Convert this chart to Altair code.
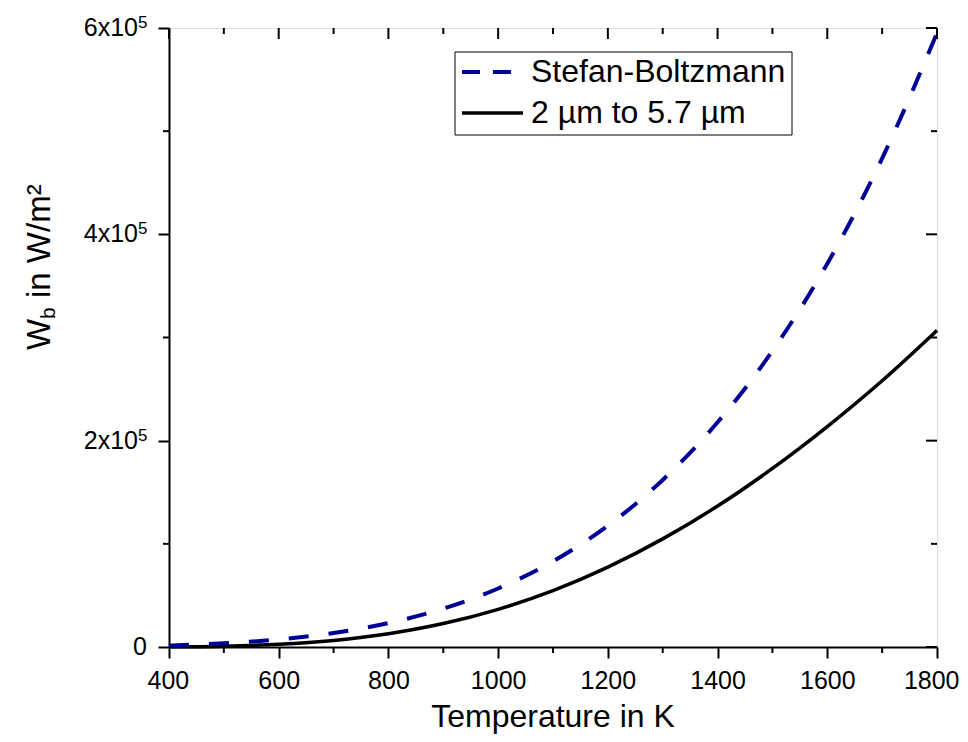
import altair as alt
import pandas as pd

# ---------------- data ----------------
temps = [400, 500, 600, 700, 800, 900, 1000, 1100, 1200, 1300, 1400, 1500, 1600, 1700, 1800]
stefan_boltzmann = [1452, 3544, 7348, 13614, 23224, 37201, 56700, 83013, 117573,
                    161939, 217818, 287044, 371589, 473558, 595213]
band_2_to_5_7 = [170, 840, 2680, 6410, 12870, 22700, 36500, 54600, 77400,
                 104800, 136600, 173100, 213700, 258100, 306900]

x_major = [400, 600, 800, 1000, 1200, 1400, 1600, 1800]
x_minor = [500, 700, 900, 1100, 1300, 1500, 1700]
y_major = [0, 200000, 400000, 600000]
y_minor = [100000, 300000, 500000]
y_label_base = ["0", "2x10", "4x10", "6x10"]
y_label_exp = ["", "5", "5", "5"]

legend_labels = ["Stefan-Boltzmann", "2 µm to 5.7 µm"]
x_title = "Temperature in K"
y_title_parts = ["W", "b", "in W/m²"]

# ---------------- styling ----------------
FONT = "Liberation Sans"
BLUE = "#000096"
W, H = 768, 619

xscale = alt.Scale(domain=[400, 1800], nice=False, zero=False)
yscale = alt.Scale(domain=[0, 600000], nice=False, zero=False)

df_sb = pd.DataFrame({"T": temps, "W": stefan_boltzmann})
df_band = pd.DataFrame({"T": temps, "W": band_2_to_5_7})
one = pd.DataFrame({"a": [0]})

x_axis = alt.Axis(values=x_major, format="d", tickSize=11, tickWidth=2, domainWidth=2,
                  labelFontSize=25, labelPadding=10, labelFont=FONT, labelColor="black",
                  tickColor="black", domainColor="black", grid=False, title=None,
                  labelFlush=True, labelFlushOffset=22, labelOverlap=False)
y_axis = alt.Axis(values=y_major, tickSize=11, tickWidth=2, domainWidth=2,
                  labels=False, tickColor="black", domainColor="black",
                  grid=False, title=None)

def X(field):
    return alt.X(field, type="quantitative", scale=xscale, axis=x_axis)

def Y(field):
    return alt.Y(field, type="quantitative", scale=yscale, axis=y_axis)

black_line = alt.Chart(df_band).mark_line(
    color="black", strokeWidth=3.5, interpolate="monotone"
).encode(x=X("T"), y=Y("W"))

blue_line = alt.Chart(df_sb).mark_line(
    color=BLUE, strokeWidth=4, strokeDash=[20, 20], interpolate="monotone"
).encode(x=X("T"), y=Y("W"))

# minor / mirrored ticks
df_xmaj = pd.DataFrame({"v": x_major})
df_xmin = pd.DataFrame({"v": x_minor})
df_ymaj = pd.DataFrame({"v": y_major})
df_ymin = pd.DataFrame({"v": y_minor})

def xticks(df, y0, y1):
    return alt.Chart(df).mark_rule(color="black", strokeWidth=2).encode(
        x=X("v"), y=alt.value(y0), y2=alt.value(y1))

def yticks(df, x0, x1):
    return alt.Chart(df).mark_rule(color="black", strokeWidth=2).encode(
        y=Y("v"), x=alt.value(x0), x2=alt.value(x1))

ticks = [
    xticks(df_xmin, H, H + 6),
    xticks(df_xmaj, 0, 11),
    xticks(df_xmin, 0, 6),
    yticks(df_ymin, -6, 0),
    yticks(df_ymaj, W - 11, W),
    yticks(df_ymin, W - 6, W),
]

# y tick labels with superscript exponent
df_ylab = pd.DataFrame({"v": y_major, "base": y_label_base, "exp": y_label_exp})
ylab_zero = alt.Chart(df_ylab).transform_filter("datum.exp == ''").mark_text(
    align="right", baseline="middle", fontSize=25, font=FONT, color="black"
).encode(y=Y("v"), x=alt.value(-22), text="base:N")
ylab_base = alt.Chart(df_ylab).transform_filter("datum.exp != ''").mark_text(
    align="right", baseline="middle", fontSize=25, font=FONT, color="black"
).encode(y=Y("v"), x=alt.value(-31), text="base:N")
ylab_exp = alt.Chart(df_ylab).transform_filter("datum.exp != ''").mark_text(
    align="left", baseline="alphabetic", fontSize=17, font=FONT, color="black", dy=0
).encode(y=Y("v"), x=alt.value(-31), text="exp:N")

# axis titles
xtitle = alt.Chart(one).mark_text(
    text=x_title, align="center", baseline="alphabetic", fontSize=32, font=FONT, color="black"
).encode(x=alt.value(W / 2), y=alt.value(699))

yt1 = alt.Chart(one).mark_text(
    text=y_title_parts[0], align="left", baseline="alphabetic", angle=270,
    fontSize=33, font=FONT, color="black"
).encode(x=alt.value(-119), y=alt.value(322))
yt2 = alt.Chart(one).mark_text(
    text=y_title_parts[1], align="left", baseline="alphabetic", angle=270,
    fontSize=21, font=FONT, color="black"
).encode(x=alt.value(-114), y=alt.value(291))
yt3 = alt.Chart(one).mark_text(
    text=y_title_parts[2], align="left", baseline="alphabetic", angle=270,
    fontSize=33, font=FONT, color="black"
).encode(x=alt.value(-119), y=alt.value(270))

# legend
leg_box = alt.Chart(one).mark_rect(fill="white", stroke="black", strokeWidth=1).encode(
    x=alt.value(286), x2=alt.value(623), y=alt.value(24), y2=alt.value(107))
leg_blue = alt.Chart(one).mark_rule(color=BLUE, strokeWidth=4, strokeDash=[18, 13]).encode(
    x=alt.value(293), x2=alt.value(344), y=alt.value(44))
leg_black = alt.Chart(one).mark_rule(color="black", strokeWidth=3.5).encode(
    x=alt.value(293), x2=alt.value(354), y=alt.value(85))
df_leg = pd.DataFrame({"label": legend_labels, "row": [0, 1]})
leg_text1 = alt.Chart(df_leg).transform_filter("datum.row == 0").mark_text(
    align="left", baseline="middle", fontSize=32, font=FONT, color="black"
).encode(x=alt.value(362), y=alt.value(44), text="label:N")
leg_text2 = alt.Chart(df_leg).transform_filter("datum.row == 1").mark_text(
    align="left", baseline="middle", fontSize=32, font=FONT, color="black"
).encode(x=alt.value(362), y=alt.value(85), text="label:N")

chart = alt.layer(
    black_line, blue_line, *ticks,
    ylab_zero, ylab_base, ylab_exp,
    xtitle, yt1, yt2, yt3,
    leg_box, leg_blue, leg_black, leg_text1, leg_text2,
).properties(
    width=W, height=H,
    autosize=alt.AutoSizeParams(type="none"),
    padding={"left": 161, "top": 20, "right": 23, "bottom": 87},
).configure_view(
    stroke="black", strokeWidth=2
).configure(background="white")

chart.save("out.html", embed_options={"renderer": "svg", "actions": False})
